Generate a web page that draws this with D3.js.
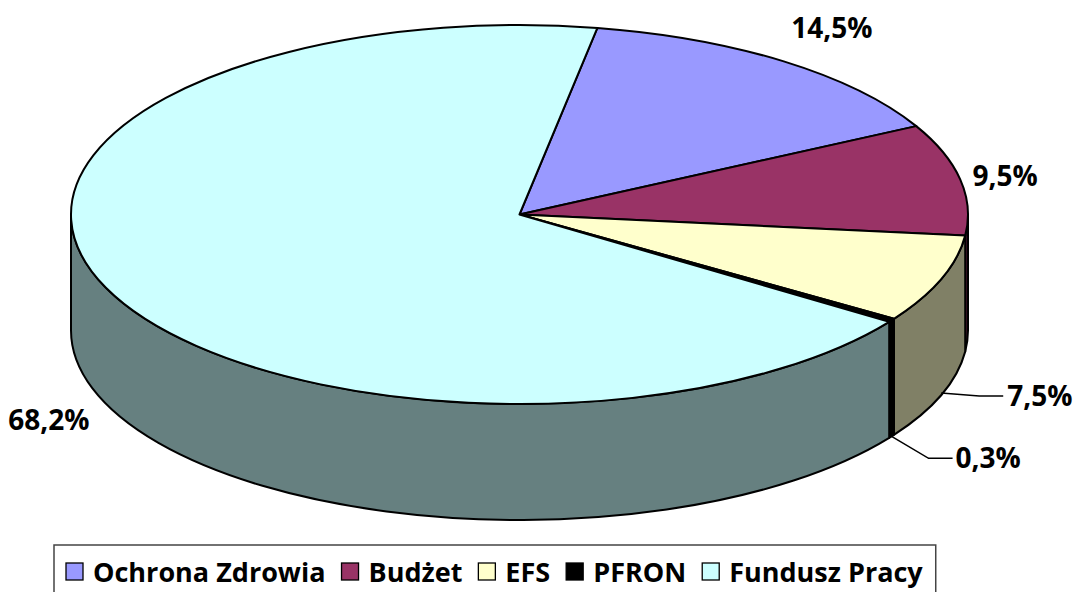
<!DOCTYPE html>
<html>
<head>
<meta charset="utf-8">
<script src="https://cdn.jsdelivr.net/npm/d3@7"></script>
<style>
  html, body { margin: 0; padding: 0; background: #fff; }
  svg text { font-family: "Open Sans", Lato, sans-serif; font-weight: 700; fill: #000; }
</style>
</head>
<body>
<svg id="chart" width="1077" height="592"></svg>
<script>
// Chart data
const categories = ["Ochrona Zdrowia", "Budżet", "EFS", "PFRON", "Fundusz Pracy"];
const values = [14.5, 9.5, 7.5, 0.3, 68.2];
const valueLabels = ["14,5%", "9,5%", "7,5%", "0,3%", "68,2%"];
const topColors = ["#9999ff", "#993366", "#ffffcc", "#000000", "#ccffff"];
const sideColors = ["#4d4d80", "#4d1a33", "#808066", "#000000", "#668080"];

// label placement: offset from anchor, whether anchor is on the side wall, leader line
const labelLayout = [
  { side: false, dx: 48, dy: -33, anchor: "middle" },
  { side: false, dx: 45, dy: -3, anchor: "middle" },
  { side: true, dz: -2, dx: 66, dy: 3, anchor: "start", leader: [[38, 3], [62, 3]] },
  { side: true, dz: 0, dx: 64, dy: 22, anchor: "start", leader: [[37, 22], [61, 22]] },
  { side: true, dz: 0, dx: -57, dy: 16, anchor: "middle" }
];

const svg = d3.select("#chart");
const fontSize = 27;

// pie geometry (ellipse)
const cx = 519.5, cy = 214.5, rx = 448.5, ry = 189.5, depth = 116;
const rot = 10 * Math.PI / 180;
const pt = (a, dz = 0) => [cx + rx * Math.sin(a), cy - ry * Math.cos(a) + dz];

const pie = d3.pie().sort(null).value(d => d)
  .startAngle(rot).endAngle(rot + 2 * Math.PI);
const arcs = pie(values);

function topPath(d) {
  const p0 = pt(d.startAngle), p1 = pt(d.endAngle);
  const large = d.endAngle - d.startAngle > Math.PI ? 1 : 0;
  return `M${cx},${cy}L${p0}A${rx},${ry} 0 ${large} 1 ${p1}Z`;
}

function sidePath(d) {
  const s0 = Math.max(d.startAngle, Math.PI / 2);
  const s1 = Math.min(d.endAngle, 3 * Math.PI / 2);
  if (s1 <= s0) return null;
  return `M${pt(s0)}A${rx},${ry} 0 0 1 ${pt(s1)}L${pt(s1, depth)}` +
         `A${rx},${ry} 0 0 0 ${pt(s0, depth)}Z`;
}

const pieG = svg.append("g").attr("class", "pie");

// side walls first
pieG.selectAll("path.side")
  .data(arcs.filter(d => sidePath(d)))
  .enter().append("path")
    .attr("class", "side")
    .attr("d", sidePath)
    .attr("fill", d => sideColors[d.index])
    .attr("stroke", "#000")
    .attr("stroke-width", 2)
    .attr("stroke-linejoin", "round");

// top faces
pieG.selectAll("path.top")
  .data(arcs)
  .enter().append("path")
    .attr("class", "top")
    .attr("d", topPath)
    .attr("fill", d => topColors[d.index])
    .attr("stroke", "#000")
    .attr("stroke-width", 2)
    .attr("stroke-linejoin", "round");

// data labels
const labelG = svg.append("g").attr("class", "labels");
arcs.forEach(d => {
  const L = labelLayout[d.index];
  const mid = (d.startAngle + d.endAngle) / 2;
  const a = pt(mid, L.side ? depth + (L.dz || 0) : 0);
  if (L.leader) {
    const pts = [a].concat(L.leader.map(o => [a[0] + o[0], a[1] + o[1]]));
    labelG.append("path")
      .attr("d", d3.line()(pts))
      .attr("fill", "none")
      .attr("stroke", "#000")
      .attr("stroke-width", 1.5);
  }
  labelG.append("text")
    .attr("x", a[0] + L.dx)
    .attr("y", a[1] + L.dy)
    .attr("dy", "0.36em")
    .attr("text-anchor", L.anchor)
    .style("font-size", "28px")
    .text(valueLabels[d.index]);
});

// legend
const legend = svg.append("g").attr("class", "legend");
const legendBox = legend.append("rect")
  .attr("fill", "#fff")
  .attr("stroke", "#444")
  .attr("stroke-width", 1.5);

let x = 66;
const my = 563, ms = 17, gapIn = 10, gapOut = 16;
categories.forEach((c, i) => {
  legend.append("rect")
    .attr("x", x).attr("y", my)
    .attr("width", ms).attr("height", ms)
    .attr("fill", topColors[i])
    .attr("stroke", "#000")
    .attr("stroke-width", 1.3);
  const t = legend.append("text")
    .attr("x", x + ms + gapIn)
    .attr("y", 582)
    .style("font-size", fontSize + "px")
    .text(c);
  x += ms + gapIn + t.node().getComputedTextLength() + gapOut;
});
legendBox
  .attr("x", 54).attr("y", 545)
  .attr("width", x - gapOut + 13 - 54)
  .attr("height", 60);
</script>
</body>
</html>
